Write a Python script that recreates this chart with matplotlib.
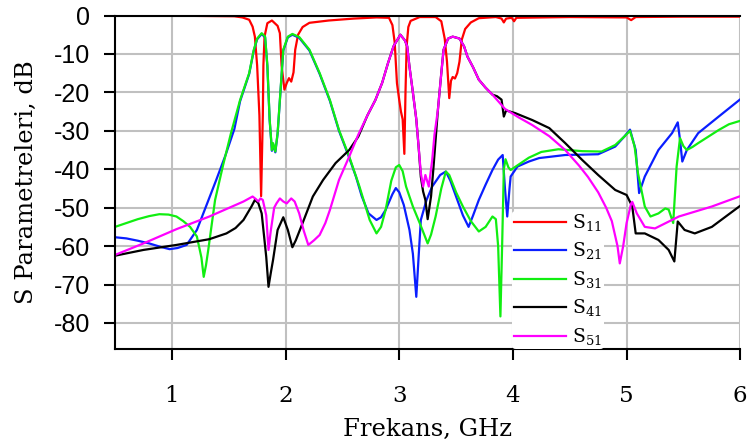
import matplotlib
matplotlib.use("Agg")
import matplotlib.pyplot as plt

plt.rcParams["axes.unicode_minus"] = False
plt.rcParams["mathtext.fontset"] = "custom"
plt.rcParams["mathtext.rm"] = "DejaVu Serif"

# S11 (red)
f11 = [0.5, 1.2, 1.55, 1.62, 1.68, 1.71, 1.73, 1.75, 1.77, 1.785, 1.80, 1.805, 1.815, 1.84, 1.88,
       1.93, 1.95, 1.965, 1.99, 2.01, 2.03, 2.05, 2.07, 2.085, 2.11, 2.15, 2.21, 2.38, 2.6, 2.8,
       2.91, 2.94, 2.96, 2.98, 3.00, 3.015, 3.03, 3.045, 3.055, 3.065, 3.08, 3.10, 3.18, 3.32,
       3.37, 3.40, 3.42, 3.44, 3.455, 3.47, 3.49, 3.51, 3.53, 3.55, 3.58, 3.63, 3.70, 3.85,
       3.90, 3.92, 3.94, 3.99, 4.01, 4.03, 4.5, 5.0, 5.04, 5.08, 5.5, 6.0]
s11 = [-0.1, -0.1, -0.2, -0.5, -1.1, -2.9, -5.5, -13, -26, -47, -26, -13, -5.5, -2, -1.3,
       -2.7, -4.6, -13, -19.3, -17.6, -16.3, -17.2, -14.8, -8.9, -5, -3, -1.9, -1.3, -0.8, -0.5,
       -0.6, -2.5, -7, -17.6, -22, -25, -27, -36, -20, -8, -3, -1.4, -0.4, -0.4,
       -1.5, -6, -12, -21.5, -17, -16, -16.4, -15, -12, -6.3, -3.5, -1.8, -0.7, -0.4,
       -0.8, -1.8, -0.8, -0.6, -1.5, -0.6, -0.4, -0.5, -1.2, -0.4, -0.3, -0.3]

# S21 (blue)
f21 = [0.5, 0.6, 0.7, 0.8, 0.9, 0.98, 1.05, 1.13, 1.22, 1.30, 1.39, 1.47, 1.55, 1.60, 1.68,
       1.72, 1.75, 1.79, 1.82, 1.84, 1.86, 1.88, 1.89, 1.91, 1.93, 1.96, 1.98, 2.02, 2.06, 2.12,
       2.21, 2.30, 2.39, 2.47, 2.56, 2.62, 2.67, 2.73, 2.80, 2.84, 2.88, 2.94, 2.97, 3.00, 3.04,
       3.09, 3.12, 3.15, 3.17, 3.19, 3.24, 3.29, 3.36, 3.41, 3.45, 3.50, 3.56, 3.61, 3.65, 3.70,
       3.76, 3.82, 3.87, 3.91, 3.93, 3.95, 3.97, 3.98, 4.04, 4.14, 4.23, 4.46, 4.75, 4.90, 4.98,
       5.03, 5.08, 5.11, 5.16, 5.28, 5.40, 5.45, 5.47, 5.49, 5.53, 5.63, 5.81, 6.0]
s21 = [-57.7, -58, -58.6, -59.3, -60.2, -60.8, -60.5, -59.7, -55.8, -49.7, -42.8, -36.5, -29.5, -22.3, -15.2,
       -9.2, -6.2, -4.8, -5.7, -13.2, -27.2, -35.2, -33.4, -35.6, -30.8, -17.8, -9.1, -5.7, -5, -5.8,
       -9.1, -15.2, -22.2, -30, -37, -42, -47, -51.5, -53.2, -52.5, -50.6, -46.5, -44.9, -46, -49.3,
       -55.8, -62, -73.2, -63, -53.2, -48, -44.5, -41.5, -40.6, -43, -47.1, -52, -55, -52, -48,
       -44, -40.2, -37.5, -36.3, -45, -52.3, -45, -41.9, -39.3, -38, -37.1, -36.3, -36.1, -34.1, -31.5,
       -29.7, -35, -46.2, -41.9, -35, -30.6, -27.8, -32.4, -38, -35, -30.6, -26.3, -21.8]

# S31 (green)
f31 = [0.5, 0.6, 0.7, 0.8, 0.89, 0.97, 1.04, 1.10, 1.16, 1.22, 1.26, 1.28, 1.30, 1.32, 1.38,
       1.45, 1.52, 1.60, 1.68, 1.72, 1.75, 1.79, 1.82, 1.84, 1.86, 1.88, 1.89, 1.91, 1.93, 1.96,
       1.98, 2.02, 2.06, 2.12, 2.21, 2.30, 2.39, 2.47, 2.56, 2.65, 2.74, 2.80, 2.84, 2.88, 2.93,
       2.97, 3.00, 3.03, 3.06, 3.12, 3.18, 3.25, 3.28, 3.32, 3.37, 3.41, 3.44, 3.50, 3.56, 3.63,
       3.70, 3.76, 3.82, 3.85, 3.87, 3.89, 3.905, 3.92, 3.935, 3.96, 3.98, 4.05, 4.14, 4.25, 4.40,
       4.61, 4.78, 4.90, 4.98, 5.03, 5.07, 5.10, 5.16, 5.21, 5.28, 5.34, 5.37, 5.41, 5.44, 5.47,
       5.50, 5.53, 5.58, 5.63, 5.72, 5.81, 5.90, 6.0]
s31 = [-55, -54, -53, -52.2, -51.7, -51.8, -52.3, -53.5, -55, -57.5, -63, -68, -65, -61, -48,
       -39, -30.6, -22, -15, -9, -6, -4.6, -5.5, -13, -27, -35, -33.2, -35.4, -30.6, -17.6,
       -8.9, -5.5, -4.8, -5.6, -8.9, -15, -22, -29.8, -36.7, -44.5, -53.2, -56.7, -55, -50.6, -43,
       -39.5, -38.9, -40.5, -44.5, -49.7, -54, -59.3, -57, -52.3, -45, -40.6, -41.5, -46, -49.7, -53.5,
       -56.2, -55, -52.3, -53, -60, -78.3, -60, -40, -37.4, -39.5, -40.2, -38.8, -37, -35.5, -34.8,
       -35.3, -35.4, -33.7, -31.5, -30, -34, -41, -49.7, -52.3, -51.5, -50.2, -50.5, -54, -39.3, -31.9,
       -34, -35, -34.2, -33.2, -31.5, -29.8, -28.3, -27.4]

# S41 (black)
f41 = [0.5, 0.75, 1.04, 1.33, 1.48, 1.56, 1.63, 1.70, 1.73, 1.76, 1.79, 1.83, 1.85, 1.87, 1.89,
       1.93, 1.98, 2.02, 2.06, 2.09, 2.15, 2.24, 2.33, 2.44, 2.56, 2.64, 2.72, 2.79, 2.85, 2.90,
       2.95, 3.01, 3.05, 3.07, 3.09, 3.12, 3.15, 3.17, 3.19, 3.21, 3.23, 3.25, 3.28, 3.30, 3.34,
       3.37, 3.39, 3.43, 3.47, 3.53, 3.57, 3.60, 3.65, 3.70, 3.76, 3.82, 3.86, 3.90, 3.92, 3.94,
       4.02, 4.17, 4.32, 4.46, 4.61, 4.75, 4.90, 5.00, 5.05, 5.08, 5.16, 5.28, 5.37, 5.42, 5.45,
       5.51, 5.60, 5.75, 6.0]
s41 = [-62.5, -61, -59.7, -58.2, -56.7, -55.3, -53.2, -49.7, -48, -48.8, -51.5, -62.8, -70.6, -67, -63.6,
       -55.8, -52.5, -55.8, -60.3, -58.5, -54, -47.1, -42.8, -38.4, -35, -31.5, -26, -22, -17.5, -12.5,
       -8, -5, -6.5, -8, -13.3, -20, -27, -34, -42, -45.8, -48, -53, -47, -40, -24.6,
       -15, -8.9, -6, -5.5, -6, -8, -10.7, -13.5, -16.7, -18.8, -20.6, -21, -21.9, -26.3, -24.7,
       -25.4, -27.2, -29.3, -33.2, -37.6, -41.5, -45.4, -46.7, -49.7, -56.7, -56.7, -58.4, -61, -64, -53.6,
       -55.8, -56.7, -55, -49.5]

# S51 (magenta)
f51 = [0.5, 0.75, 1.04, 1.33, 1.63, 1.71, 1.74, 1.76, 1.78, 1.80, 1.83, 1.85, 1.87, 1.90, 1.92,
       1.95, 1.98, 2.01, 2.05, 2.08, 2.12, 2.16, 2.20, 2.25, 2.30, 2.35, 2.39, 2.47, 2.56, 2.64,
       2.72, 2.79, 2.85, 2.90, 2.95, 3.01, 3.05, 3.07, 3.09, 3.12, 3.15, 3.17, 3.19, 3.21, 3.23,
       3.245, 3.26, 3.29, 3.31, 3.34, 3.37, 3.39, 3.43, 3.47, 3.53, 3.57, 3.60, 3.65, 3.70, 3.76,
       3.82, 3.93, 4.05, 4.17, 4.32, 4.46, 4.58, 4.66, 4.75, 4.82, 4.87, 4.92, 4.94, 4.97, 5.00,
       5.04, 5.05, 5.09, 5.16, 5.25, 5.46, 5.75, 6.0]
s51 = [-62.3, -59.3, -55.6, -52.3, -48.4, -47.1, -47.8, -48.4, -47.6, -48, -52, -61, -56, -50, -48.9,
       -47.6, -48.4, -48.9, -47.6, -48.4, -51.5, -56, -59.7, -58.5, -57.1, -54, -50.6, -42.8, -36.7, -31,
       -26, -22, -17.5, -12.5, -8, -5, -6.5, -8, -13.3, -20, -27, -34, -41, -44.5, -41.5,
       -43, -44.5, -37.6, -31, -24.6, -15, -8.9, -6, -5.5, -6, -8, -10.7, -13.5, -16.7, -18.8,
       -20.6, -24.3, -26.5, -28.5, -31.4, -35, -39, -42, -46, -50, -53.5, -60, -64.5, -60, -54,
       -48.9, -48.5, -51.5, -55, -55.4, -52.3, -49.7, -47]

series = [
    (f11, s11, "#ff0000", "S$_{11}$"),
    (f21, s21, "#0a1eff", "S$_{21}$"),
    (f31, s31, "#11ee11", "S$_{31}$"),
    (f41, s41, "#000000", "S$_{41}$"),
    (f51, s51, "#ff00ff", "S$_{51}$"),
]

fig = plt.figure(figsize=(7.47, 4.43), dpi=100)
ax = fig.add_axes([0.154, 0.212, 0.837, 0.753])

for f, s, c, lab in series:
    ax.plot(f, s, color=c, lw=1.6, label=lab)

ax.set_xlim(0.5, 6)
ax.set_ylim(-86.8, 0)
ax.set_xticks([1, 2, 3, 4, 5, 6])
ax.set_yticks([0, -10, -20, -30, -40, -50, -60, -70, -80])
ax.grid(True, color="#c0c0c0", lw=1.5)
ax.set_axisbelow(True)

ax.spines["right"].set_visible(False)
for side in ["left", "bottom", "top"]:
    ax.spines[side].set_linewidth(1.5)
    ax.spines[side].set_color("black")

ax.tick_params(axis="both", direction="out", length=8, width=1.5, color="black")
ax.tick_params(axis="x", pad=18, labelsize=16.5)
ax.tick_params(axis="y", pad=10, labelsize=18)
for t in ax.get_xticklabels():
    t.set_fontfamily("DejaVu Serif")
for t in ax.get_yticklabels():
    t.set_fontfamily("Liberation Sans")

ax.set_xlabel("Frekans, GHz", fontsize=17.5, fontfamily="DejaVu Serif", labelpad=8)
ax.set_ylabel("S Parametreleri, dB", fontsize=17.5, fontfamily="DejaVu Serif", labelpad=11)

leg = ax.legend(loc="upper left", bbox_to_anchor=(0.635, 0.415), frameon=True,
                prop={"family": "DejaVu Serif", "size": 13.5}, handlelength=2.8,
                handletextpad=0.3, labelspacing=0.38, borderpad=0.1, borderaxespad=0)
leg.get_frame().set_facecolor("white")
leg.get_frame().set_edgecolor("none")
leg.get_frame().set_alpha(1)

fig.savefig("out.png", dpi=100)
